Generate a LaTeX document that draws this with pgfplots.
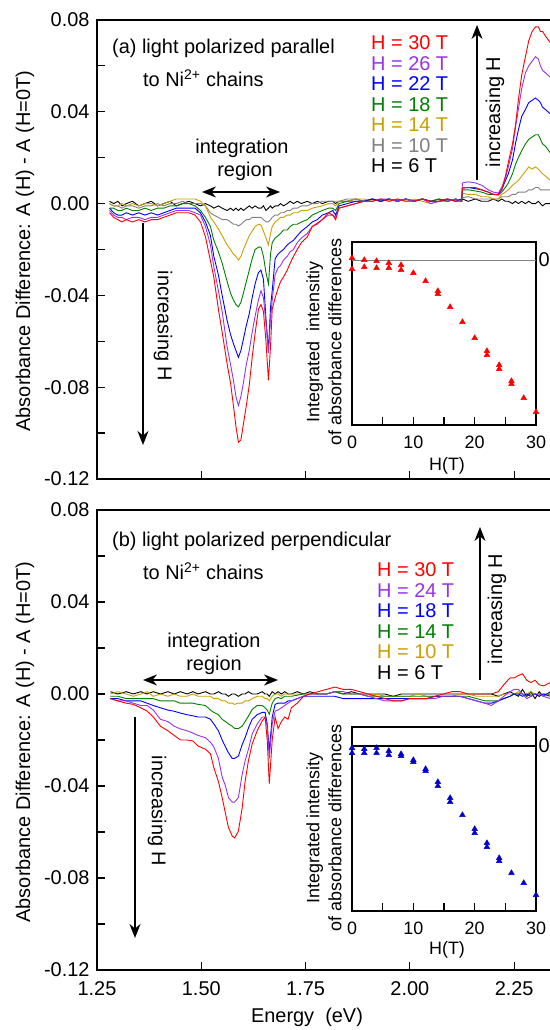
\documentclass[border=0pt]{standalone}
\usepackage{fontspec}
\setmainfont{Liberation Sans}
\usepackage{pgfplots}
\pgfplotsset{compat=1.18}
\usepackage{pgfplotstable}
\usetikzlibrary{arrows.meta}
\definecolor{cR}{RGB}{255,0,0}
\definecolor{cP}{RGB}{153,51,230}
\definecolor{cB}{RGB}{0,0,255}
\definecolor{cG}{RGB}{0,128,0}
\definecolor{cY}{RGB}{200,160,0}
\definecolor{cS}{RGB}{128,128,128}
\definecolor{cBm}{RGB}{0,0,205}
\newcommand\fa{\fontsize{20}{24}\selectfont}
\newcommand\fb{\fontsize{18}{22}\selectfont}

\pgfplotstableread[row sep=\\]{
E r p b g y s k \\
1.280 -0.004 -0.003 -0.002 -0.002 0.000 0.000 0.001 \\
1.290 -0.006 -0.005 -0.004 -0.002 -0.001 -0.001 0.000 \\
1.300 -0.007 -0.006 -0.005 -0.003 -0.001 -0.001 0.001 \\
1.310 -0.008 -0.006 -0.005 -0.003 0.000 -0.002 -0.001 \\
1.320 -0.007 -0.007 -0.004 -0.002 -0.001 -0.001 0.000 \\
1.335 -0.008 -0.006 -0.005 -0.003 0.000 -0.001 0.001 \\
1.350 -0.007 -0.006 -0.004 -0.003 -0.001 -0.002 -0.001 \\
1.365 -0.008 -0.007 -0.005 -0.002 0.000 -0.001 0.000 \\
1.380 -0.007 -0.006 -0.004 -0.003 0.000 -0.001 0.001 \\
1.395 -0.007 -0.006 -0.005 -0.002 -0.001 0.000 -0.001 \\
1.410 -0.006 -0.005 -0.004 -0.002 0.000 -0.001 0.000 \\
1.425 -0.005 -0.004 -0.003 -0.001 0.001 0.000 0.001 \\
1.440 -0.004 -0.003 -0.002 -0.001 0.002 0.000 -0.001 \\
1.455 -0.004 -0.003 -0.002 0.000 0.002 0.001 0.000 \\
1.470 -0.004 -0.003 -0.002 0.000 0.002 0.000 0.001 \\
1.485 -0.005 -0.004 -0.002 -0.001 0.002 0.000 0.000 \\
1.498 -0.008 -0.005 -0.004 -0.003 0.001 0.000 -0.001 \\
1.510 -0.0145 -0.010 -0.008 -0.006 -0.001 -0.001 0.000 \\
1.522 -0.025 -0.018 -0.014 -0.010 -0.006 -0.004 -0.001 \\
1.530 -0.032 -0.0275 -0.023 -0.016 -0.008 -0.005 -0.002 \\
1.541 -0.046 -0.038 -0.031 -0.021 -0.011 -0.006 -0.001 \\
1.550 -0.056 -0.047 -0.040 -0.026 -0.014 -0.007 -0.002 \\
1.562 -0.070 -0.0625 -0.051 -0.034 -0.018 -0.007 -0.003 \\
1.570 -0.078 -0.070 -0.057 -0.039 -0.020 -0.008 -0.002 \\
1.577 -0.088 -0.077 -0.061 -0.042 -0.022 -0.009 -0.003 \\
1.583 -0.097 -0.084 -0.064 -0.044 -0.023 -0.009 -0.002 \\
1.589 -0.104 -0.088 -0.067 -0.045 -0.0246 -0.0098 -0.003 \\
1.595 -0.103 -0.084 -0.064 -0.043 -0.023 -0.009 -0.002 \\
1.601 -0.096 -0.078 -0.059 -0.039 -0.020 -0.008 -0.003 \\
1.608 -0.088 -0.070 -0.053 -0.034 -0.017 -0.007 -0.002 \\
1.615 -0.079 -0.064 -0.048 -0.029 -0.014 -0.007 -0.001 \\
1.622 -0.067 -0.056 -0.041 -0.024 -0.012 -0.006 -0.002 \\
1.629 -0.0565 -0.049 -0.035 -0.020 -0.010 -0.006 -0.001 \\
1.637 -0.046 -0.042 -0.030 -0.019 -0.009 -0.006 -0.002 \\
1.643 -0.044 -0.038 -0.029 -0.019 -0.0093 -0.006 -0.002 \\
1.649 -0.047 -0.041 -0.033 -0.023 -0.012 -0.007 -0.001 \\
1.655 -0.060 -0.052 -0.050 -0.030 -0.015 -0.008 -0.003 \\
1.661 -0.077 -0.065 -0.064 -0.035 -0.018 -0.008 -0.002 \\
1.666 -0.062 -0.050 -0.045 -0.022 -0.013 -0.007 -0.001 \\
1.670 -0.046 -0.042 -0.038 -0.017 -0.010 -0.006 -0.002 \\
1.677 -0.041 -0.031 -0.024 -0.015 -0.008 -0.005 -0.001 \\
1.684 -0.037 -0.028 -0.022 -0.014 -0.007 -0.005 -0.001 \\
1.690 -0.034 -0.027 -0.021 -0.013 -0.006 -0.004 0.000 \\
1.697 -0.032 -0.0246 -0.020 -0.0115 -0.006 -0.004 -0.001 \\
1.706 -0.029 -0.023 -0.018 -0.0115 -0.005 -0.003 0.000 \\
1.713 -0.026 -0.021 -0.017 -0.010 -0.005 -0.003 0.001 \\
1.721 -0.023 -0.020 -0.016 -0.009 -0.004 -0.002 0.000 \\
1.730 -0.020 -0.017 -0.014 -0.009 -0.004 -0.002 0.001 \\
1.740 -0.017 -0.015 -0.012 -0.008 -0.003 -0.001 0.000 \\
1.754 -0.0145 -0.013 -0.010 -0.007 -0.003 -0.001 0.001 \\
1.766 -0.010 -0.010 -0.008 -0.005 -0.002 0.000 0.000 \\
1.778 -0.0085 -0.009 -0.007 -0.004 -0.0015 0.000 0.001 \\
1.790 -0.007 -0.007 -0.005 -0.003 -0.001 0.001 0.000 \\
1.805 -0.004 -0.005 -0.004 -0.002 0.000 0.001 0.001 \\
1.815 -0.005 -0.005 -0.003 -0.002 0.000 0.001 0.001 \\
1.822 -0.007 -0.006 -0.005 -0.003 -0.001 0.001 0.000 \\
1.830 -0.002 -0.002 -0.001 0.000 0.001 0.001 0.001 \\
1.850 -0.001 -0.001 0.000 0.001 0.001 0.002 0.001 \\
1.870 0.000 0.000 0.001 0.001 0.002 0.002 0.002 \\
1.890 0.001 0.001 0.001 0.001 0.002 0.001 0.001 \\
1.910 0.001 0.001 0.002 0.002 0.001 0.002 0.002 \\
1.930 0.002 0.002 0.001 0.001 0.002 0.001 0.001 \\
1.950 0.001 0.002 0.002 0.002 0.001 0.002 0.002 \\
1.970 0.002 0.001 0.001 0.001 0.002 0.001 0.001 \\
1.990 0.001 0.002 0.002 0.002 0.001 0.002 0.002 \\
2.010 0.001 0.001 0.001 0.001 0.002 0.001 0.001 \\
2.030 0.002 0.002 0.002 0.002 0.001 0.002 0.002 \\
2.050 0.001 0.000 0.001 0.001 0.000 0.001 0.001 \\
2.070 0.001 0.001 0.001 0.002 0.001 0.001 0.002 \\
2.090 0.002 0.001 0.002 0.001 0.002 0.002 0.001 \\
2.110 0.001 0.002 0.001 0.002 0.001 0.001 0.002 \\
2.124 0.001 0.001 0.002 0.001 0.002 0.002 0.001 \\
2.126 0.0068 0.009 0.0068 0.006 0.0045 0.0026 0.002 \\
2.140 0.007 0.0095 0.007 0.006 0.004 0.003 0.001 \\
2.157 0.007 0.009 0.0065 0.0055 0.004 0.002 0.002 \\
2.172 0.006 0.008 0.006 0.005 0.003 0.002 0.001 \\
2.188 0.005 0.006 0.005 0.004 0.003 0.002 0.001 \\
2.200 0.004 0.005 0.004 0.004 0.002 0.002 0.002 \\
2.212 0.004 0.0046 0.004 0.0037 0.002 0.002 0.001 \\
2.220 0.006 0.007 0.006 0.005 0.004 0.003 0.002 \\
2.229 0.012 0.011 0.010 0.007 0.005 0.003 0.001 \\
2.236 0.018 0.016 0.013 0.009 0.006 0.003 0.001 \\
2.246 0.026 0.024 0.019 0.013 0.008 0.004 0.000 \\
2.253 0.034 0.033 0.026 0.017 0.009 0.004 0.001 \\
2.260 0.045 0.041 0.032 0.020 0.010 0.005 0.000 \\
2.268 0.056 0.050 0.038 0.023 0.012 0.005 0.001 \\
2.277 0.064 0.057 0.041 0.026 0.014 0.005 0.000 \\
2.285 0.071 0.060 0.044 0.028 0.016 0.006 0.001 \\
2.293 0.075 0.062 0.045 0.029 0.015 0.006 0.000 \\
2.301 0.077 0.064 0.046 0.030 0.016 0.007 0.000 \\
2.308 0.077 0.063 0.045 0.030 0.015 0.007 0.001 \\
2.313 0.075 0.060 0.044 0.028 0.014 0.006 0.000 \\
2.318 0.075 0.058 0.042 0.026 0.013 0.006 -0.001 \\
2.325 0.073 0.057 0.041 0.025 0.012 0.006 0.000 \\
2.337 0.070 0.055 0.039 0.022 0.010 0.006 0.000 \\
}\tabA

\pgfplotstableread[row sep=\\]{
E r p b g y k \\
1.282 -0.002 -0.002 -0.002 -0.001 0.000 0.001 \\
1.300 -0.003 -0.003 -0.002 -0.001 0.001 0.000 \\
1.320 -0.004 -0.003 -0.003 -0.002 0.000 0.001 \\
1.337 -0.0045 -0.004 -0.003 -0.002 -0.001 0.000 \\
1.355 -0.006 -0.005 -0.003 -0.002 0.000 0.001 \\
1.370 -0.0074 -0.005 -0.004 -0.002 0.001 0.000 \\
1.385 -0.010 -0.007 -0.005 -0.002 -0.001 0.001 \\
1.402 -0.014 -0.011 -0.006 -0.003 0.000 0.000 \\
1.420 -0.016 -0.012 -0.007 -0.003 -0.001 0.001 \\
1.435 -0.018 -0.014 -0.0075 -0.003 0.000 0.000 \\
1.450 -0.020 -0.0152 -0.0083 -0.004 -0.001 0.001 \\
1.466 -0.020 -0.016 -0.009 -0.004 -0.001 0.000 \\
1.480 -0.0204 -0.017 -0.0095 -0.004 0.000 0.001 \\
1.492 -0.0226 -0.018 -0.010 -0.0045 -0.001 0.000 \\
1.510 -0.024 -0.019 -0.010 -0.005 -0.001 0.001 \\
1.522 -0.026 -0.021 -0.011 -0.007 -0.001 0.000 \\
1.530 -0.032 -0.023 -0.013 -0.008 -0.002 0.000 \\
1.541 -0.038 -0.028 -0.016 -0.009 -0.002 0.001 \\
1.550 -0.045 -0.036 -0.020 -0.011 -0.003 0.000 \\
1.558 -0.052 -0.040 -0.023 -0.012 -0.003 0.000 \\
1.565 -0.058 -0.045 -0.0255 -0.013 -0.004 -0.001 \\
1.574 -0.0617 -0.047 -0.028 -0.014 -0.004 0.000 \\
1.580 -0.0626 -0.047 -0.028 -0.015 -0.0045 0.000 \\
1.589 -0.0596 -0.045 -0.027 -0.015 -0.004 -0.001 \\
1.598 -0.0496 -0.035 -0.022 -0.014 -0.004 0.000 \\
1.605 -0.038 -0.029 -0.019 -0.012 -0.003 0.000 \\
1.613 -0.029 -0.024 -0.0148 -0.0096 -0.003 0.001 \\
1.622 -0.0217 -0.0174 -0.011 -0.0067 -0.002 0.000 \\
1.634 -0.016 -0.013 -0.009 -0.005 -0.001 0.000 \\
1.646 -0.0117 -0.010 -0.008 -0.005 -0.001 0.001 \\
1.653 -0.010 -0.010 -0.008 -0.006 -0.002 0.000 \\
1.658 -0.020 -0.014 -0.013 -0.007 -0.002 0.000 \\
1.663 -0.039 -0.028 -0.0248 -0.0088 -0.003 -0.001 \\
1.670 -0.020 -0.013 -0.010 -0.004 -0.001 0.001 \\
1.677 -0.010 -0.0074 -0.0045 -0.002 0.000 0.000 \\
1.684 -0.015 -0.007 -0.004 -0.0015 0.000 0.001 \\
1.692 -0.012 -0.006 -0.004 -0.002 -0.001 0.000 \\
1.700 -0.010 -0.005 -0.004 -0.001 0.000 0.001 \\
1.708 -0.011 -0.004 -0.003 -0.001 0.000 0.000 \\
1.716 -0.006 -0.003 -0.003 -0.001 0.000 0.000 \\
1.730 -0.004 -0.002 -0.002 -0.0005 0.000 0.001 \\
1.745 -0.001 -0.001 -0.001 0.000 0.000 0.000 \\
1.760 0.000 0.000 -0.001 0.000 0.000 0.001 \\
1.780 0.001 0.000 -0.001 0.000 0.000 0.000 \\
1.800 0.002 0.000 -0.001 0.000 0.000 0.000 \\
1.820 0.003 0.001 -0.001 0.001 0.001 0.001 \\
1.840 0.002 0.001 -0.002 0.000 0.000 0.000 \\
1.860 0.002 0.000 -0.002 0.000 0.000 0.001 \\
1.880 0.001 0.000 -0.002 0.000 0.000 0.000 \\
1.900 0.000 -0.001 -0.002 -0.001 -0.001 0.000 \\
1.920 -0.001 -0.002 -0.002 -0.001 0.000 0.000 \\
1.940 -0.002 -0.003 -0.002 -0.001 -0.001 0.000 \\
1.960 -0.003 -0.003 -0.002 -0.001 -0.001 -0.001 \\
1.980 -0.003 -0.003 -0.002 -0.001 -0.001 0.000 \\
2.000 -0.002 -0.002 -0.002 -0.001 -0.001 0.000 \\
2.020 -0.002 -0.002 -0.002 -0.001 0.000 0.000 \\
2.040 -0.002 -0.002 -0.002 -0.001 -0.001 0.000 \\
2.060 -0.001 -0.002 -0.001 -0.001 -0.001 0.000 \\
2.080 0.000 -0.001 -0.001 -0.001 -0.001 0.000 \\
2.100 0.001 -0.001 -0.001 -0.001 -0.001 0.000 \\
2.120 0.001 -0.001 -0.001 -0.001 0.000 0.000 \\
2.140 0.000 -0.002 -0.002 -0.001 0.000 0.000 \\
2.160 0.000 -0.003 -0.003 -0.002 -0.001 0.000 \\
2.180 0.000 -0.004 -0.004 -0.003 -0.001 0.000 \\
2.195 0.000 -0.005 -0.004 -0.003 -0.001 0.000 \\
2.212 0.001 -0.003 -0.003 -0.003 -0.001 -0.001 \\
2.225 0.004 -0.001 -0.002 -0.002 0.000 0.000 \\
2.240 0.007 0.001 -0.001 -0.001 0.000 0.001 \\
2.250 0.007 0.002 0.000 0.000 0.000 0.000 \\
2.260 0.008 0.002 0.000 0.000 0.001 -0.001 \\
2.270 0.0088 0.000 -0.001 0.000 0.000 0.002 \\
2.280 0.006 -0.002 0.000 -0.001 0.000 -0.001 \\
2.290 0.005 -0.001 -0.001 0.000 0.001 0.001 \\
2.300 0.006 0.000 0.000 0.000 0.000 -0.002 \\
2.310 0.004 0.000 -0.001 -0.001 0.000 0.001 \\
2.320 0.0035 -0.001 0.000 0.000 -0.001 -0.001 \\
2.337 0.005 -0.002 -0.001 0.000 0.000 0.001 \\
}\tabB

\pgfplotsset{
  mainax/.style={
    scale only axis, anchor=south west,
    width=456.8bp,
    xmin=1.25, xmax=2.345, ymin=-0.12, ymax=0.08,
    xtick={1.25,1.5,1.75,2,2.25},
    ytick={-0.12,-0.08,-0.04,0,0.04,0.08},
    minor ytick={-0.1,-0.06,-0.02,0.02,0.06},
    yticklabels={-0.12,-0.08,-0.04,0.00,0.04,0.08},
    tick pos=left,
    major tick length=8bp, minor tick length=8bp,
    tick style={black, line width=1.2bp},
    every minor tick/.style={black, line width=1.2bp},
    axis line style={line width=1.3bp},
    ticklabel style={font=\fa},
    yticklabel style={xshift=-4bp},
    xticklabel style={yshift=-8bp},
    every axis plot/.append style={line width=0.9bp, no marks},
  },
  inax/.style={
    scale only axis, anchor=south west,
    width=184bp,
    xmin=0, xmax=30,
    xtick={0,5,10,15,20,25,30},
    xticklabels={0,,10,,20,,30},
    ytick=\empty,
    tick pos=left,
    major tick length=8bp,
    tick style={black, line width=1.2bp},
    axis line style={line width=1.2bp},
    ticklabel style={font=\fb},
    xticklabel style={yshift=-7bp},
    axis background/.style={fill=white},
  },
}

\begin{document}
\begin{tikzpicture}
\useasboundingbox (0,0) rectangle (550bp,1030bp);
\clip (0,0) rectangle (550bp,1030bp);

% ---------------- panel (a)
\begin{axis}[mainax, at={(97bp,551bp)}, height=459bp, xticklabels={}]
\addplot[black] table[x=E,y=k]{\tabA};
\addplot[cS] table[x=E,y=s]{\tabA};
\addplot[cY] table[x=E,y=y]{\tabA};
\addplot[cG] table[x=E,y=g]{\tabA};
\addplot[cB] table[x=E,y=b]{\tabA};
\addplot[cP] table[x=E,y=p]{\tabA};
\addplot[cR] table[x=E,y=r]{\tabA};
\end{axis}

\begin{axis}[inax, at={(352bp,605bp)}, height=183bp, ymin=-165, ymax=18]
\addplot[gray, line width=0.8bp] coordinates {(0,0) (30,0)};
\addplot[only marks, mark=triangle*, mark size=3.3bp, color=cR] coordinates {
(0,2) (0,-9) (2,0) (2,-7) (4,-1) (4,-8) (6,-3) (6,-8) (8,-5) (8,-10)
(10,-13) (12,-21) (14,-31) (14,-34) (16,-47) (18,-62) (20,-78)
(22,-91) (22,-95) (24,-105) (24,-109) (26,-121) (26,-124) (28,-138) (30,-152)};
\end{axis}

% ---------------- panel (b)
\begin{axis}[mainax, at={(97bp,60bp)}, height=460bp, xticklabels={1.25,1.50,1.75,2.00,2.25}]
\addplot[black] table[x=E,y=k]{\tabB};
\addplot[cY] table[x=E,y=y]{\tabB};
\addplot[cG] table[x=E,y=g]{\tabB};
\addplot[cB] table[x=E,y=b]{\tabB};
\addplot[cP] table[x=E,y=p]{\tabB};
\addplot[cR] table[x=E,y=r]{\tabB};
\end{axis}

\begin{axis}[inax, at={(352bp,119bp)}, height=184bp, ymin=-165, ymax=19]
\addplot[black, line width=1.4bp] coordinates {(0,0) (30,0)};
\addplot[only marks, mark=triangle*, mark size=3.3bp, color=cBm] coordinates {
(0,-2) (0,-7) (2,-3) (2,-7) (4,-2) (4,-7) (6,-5) (6,-9) (8,-8) (8,-10)
(10,-14) (10,-16) (12,-23) (12,-25) (14,-36) (14,-40) (16,-52) (16,-56)
(18,-69) (20,-83) (20,-87) (22,-97) (22,-101) (24,-112) (24,-115)
(26,-127) (28,-137) (30,-149)};
\end{axis}

% ---------------- annotations panel (a)
\node[anchor=base west, inner sep=0] at (112bp,976bp) {\fa (a) light polarized parallel};
\node[anchor=base west, inner sep=0] at (143bp,943bp) {\fa to Ni\textsuperscript{2+} chains};
\node[anchor=base west, inner sep=0, text=cR] at (371bp,980bp) {\fa H = 30 T};
\node[anchor=base west, inner sep=0, text=cP] at (371bp,959.5bp) {\fa H = 26 T};
\node[anchor=base west, inner sep=0, text=cB] at (371bp,939bp) {\fa H = 22 T};
\node[anchor=base west, inner sep=0, text=cG] at (371bp,918.5bp) {\fa H = 18 T};
\node[anchor=base west, inner sep=0, text=cY] at (371bp,898bp) {\fa H = 14 T};
\node[anchor=base west, inner sep=0, text=cS] at (371bp,877.5bp) {\fa H = 10 T};
\node[anchor=base west, inner sep=0, text=black] at (371bp,857bp) {\fa H = 6 T};
\draw[line width=1.5bp, -{Stealth[length=14bp,width=11bp]}] (477bp,850bp) -- (477bp,1005bp);
\node[rotate=90] at (495bp,918bp) {\fa increasing H};
\draw[line width=1.5bp, {Stealth[length=14bp,width=11bp]}-{Stealth[length=14bp,width=11bp]}] (202bp,838bp) -- (280bp,838bp);
\node at (242bp,882bp) {\fa integration};
\node at (245bp,859bp) {\fa region};
\draw[line width=1.5bp, -{Stealth[length=14bp,width=11bp]}] (143bp,807bp) -- (143bp,585bp);
\node[rotate=-90] at (163bp,704bp) {\fa increasing H};
\node[rotate=90] at (25bp,779bp) {\fa Absorbance Difference: A (H) - A (H=0T)};
\node[rotate=90, align=center, font=\fb] at (324bp,688bp) {Integrated\ \ intensitiy\\of absorbance differences};
\node at (447bp,564bp) {\fb H(T)};
\node[anchor=west, inner sep=0] at (538.5bp,770bp) {\fa 0};

% ---------------- annotations panel (b)
\node[anchor=base west, inner sep=0] at (112bp,483bp) {\fa (b) light polarized perpendicular};
\node[anchor=base west, inner sep=0] at (143bp,450bp) {\fa to Ni\textsuperscript{2+} chains};
\node[anchor=base west, inner sep=0, text=cR] at (377bp,453bp) {\fa H = 30 T};
\node[anchor=base west, inner sep=0, text=cP] at (377bp,432.5bp) {\fa H = 24 T};
\node[anchor=base west, inner sep=0, text=cB] at (377bp,412bp) {\fa H = 18 T};
\node[anchor=base west, inner sep=0, text=cG] at (377bp,391.5bp) {\fa H = 14 T};
\node[anchor=base west, inner sep=0, text=cY] at (377bp,371bp) {\fa H = 10 T};
\node[anchor=base west, inner sep=0, text=black] at (377bp,350.5bp) {\fa H = 6 T};
\draw[line width=1.5bp, -{Stealth[length=14bp,width=11bp]}] (480bp,350bp) -- (480bp,503bp);
\node[rotate=90] at (497bp,421bp) {\fa increasing H};
\draw[line width=1.5bp, {Stealth[length=14bp,width=11bp]}-{Stealth[length=14bp,width=11bp]}] (143bp,350bp) -- (278bp,350bp);
\node at (214bp,388bp) {\fa integration};
\node at (214bp,365bp) {\fa region};
\draw[line width=1.5bp, -{Stealth[length=14bp,width=11bp]}] (135bp,313bp) -- (135bp,92bp);
\node[rotate=-90] at (157bp,219bp) {\fa increasing H};
\node[rotate=90] at (25bp,288bp) {\fa Absorbance Difference: A (H) - A (H=0T)};
\node[rotate=90, align=center, font=\fb] at (324bp,202bp) {Integrated intensity\\of absorbance differences};
\node at (447bp,80bp) {\fb H(T)};
\node[anchor=west, inner sep=0] at (538.5bp,284bp) {\fa 0};
\node at (307bp,13bp) {\fa Energy\ \ (eV)};
\end{tikzpicture}
\end{document}
